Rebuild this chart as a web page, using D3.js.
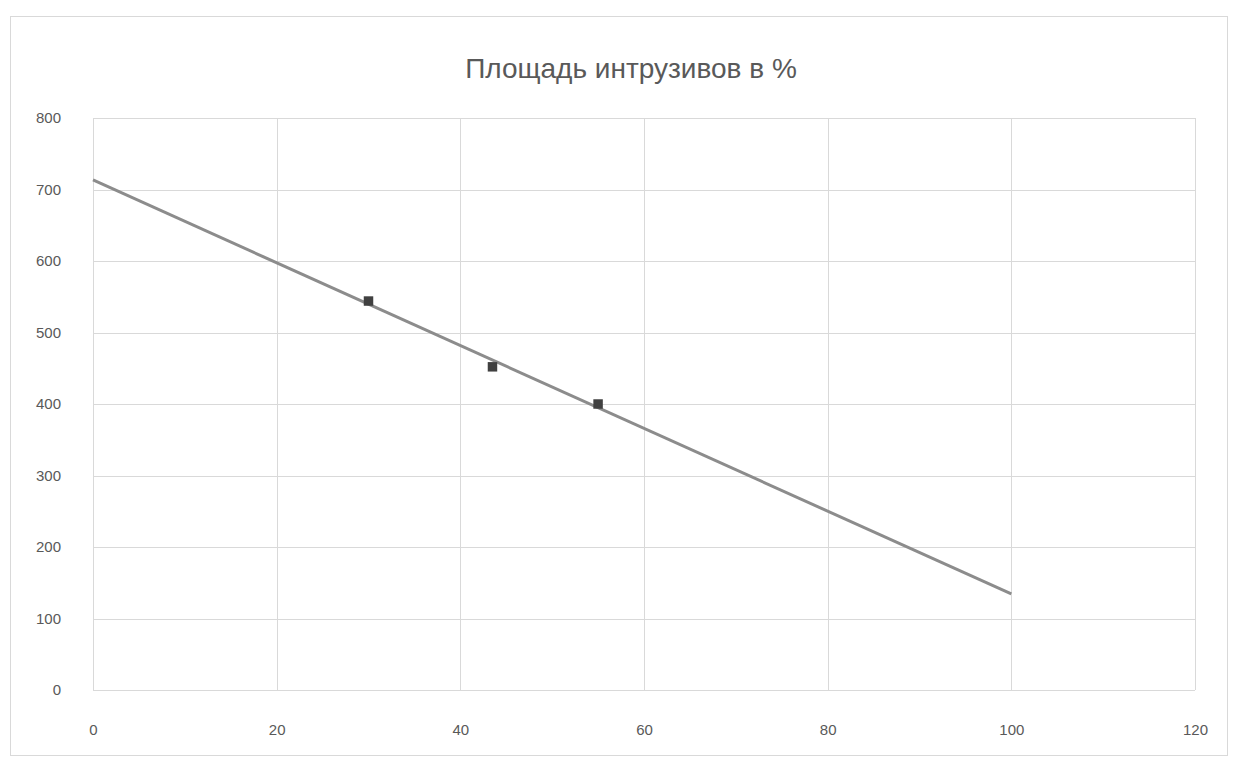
<!DOCTYPE html>
<html><head><meta charset="utf-8">
<script src="https://cdn.jsdelivr.net/npm/d3@7"></script>
<style>body{margin:0;background:#fff}svg{display:block}text{font-family:"Liberation Sans",Arial,sans-serif}</style>
</head><body>
<svg id="c" width="1237" height="762"></svg>
<script>
const title = "Площадь интрузивов в %";
const pointX = [30, 43.5, 55];
const pointY = [544, 452, 400];
const trendRange = [0, 100];
const xTicks = [0, 20, 40, 60, 80, 100, 120];
const yTicks = [0, 100, 200, 300, 400, 500, 600, 700, 800];

const svg = d3.select("#c");
svg.append("rect").attr("x", 10.5).attr("y", 16.5).attr("width", 1217).attr("height", 739)
  .attr("fill", "#fff").attr("stroke", "#d9d9d9");

const x = d3.scaleLinear().domain([0, 120]).range([93, 1195]);
const y = d3.scaleLinear().domain([0, 800]).range([690, 118]);

// gridlines
svg.append("g").selectAll("line").data(yTicks).join("line")
  .attr("x1", x(0)).attr("x2", x(120))
  .attr("y1", d => Math.round(y(d)) + 0.5).attr("y2", d => Math.round(y(d)) + 0.5)
  .attr("stroke", "#d9d9d9");
svg.append("g").selectAll("line").data(xTicks).join("line")
  .attr("y1", y(0)).attr("y2", y(800))
  .attr("x1", d => Math.round(x(d)) + 0.5).attr("x2", d => Math.round(x(d)) + 0.5)
  .attr("stroke", "#d9d9d9");

// axes labels via d3 axes
const xAxis = svg.append("g").attr("transform", `translate(0,${y(0)})`)
  .call(d3.axisBottom(x).tickValues(xTicks).tickSize(0).tickPadding(34));
const yAxis = svg.append("g").attr("transform", `translate(${x(0)},0)`)
  .call(d3.axisLeft(y).tickValues(yTicks).tickSize(0).tickPadding(32));
[xAxis, yAxis].forEach(a => {
  a.select(".domain").remove();
  a.selectAll("text").attr("fill", "#595959").attr("font-size", 15)
    .attr("font-family", "'Liberation Sans',Arial,sans-serif");
});

// regression trendline
const mx = d3.mean(pointX), my = d3.mean(pointY);
const slope = d3.sum(pointX, (v, i) => (v - mx) * (pointY[i] - my)) / d3.sum(pointX, v => (v - mx) ** 2);
const icpt = my - slope * mx;
svg.append("line")
  .attr("x1", x(trendRange[0])).attr("y1", y(icpt + slope * trendRange[0]))
  .attr("x2", x(trendRange[1])).attr("y2", y(icpt + slope * trendRange[1]))
  .attr("stroke", "#8c8c8c").attr("stroke-width", 3);

// markers
svg.append("g").selectAll("path").data(pointX.map((v, i) => [v, pointY[i]])).join("path")
  .attr("d", d3.symbol().type(d3.symbolSquare).size(90))
  .attr("transform", d => `translate(${x(d[0])},${y(d[1])})`)
  .attr("fill", "#404040");

svg.append("text").attr("x", 631).attr("y", 78).attr("text-anchor", "middle")
  .attr("font-size", 28).attr("fill", "#595959").text(title);
</script>
</body></html>
